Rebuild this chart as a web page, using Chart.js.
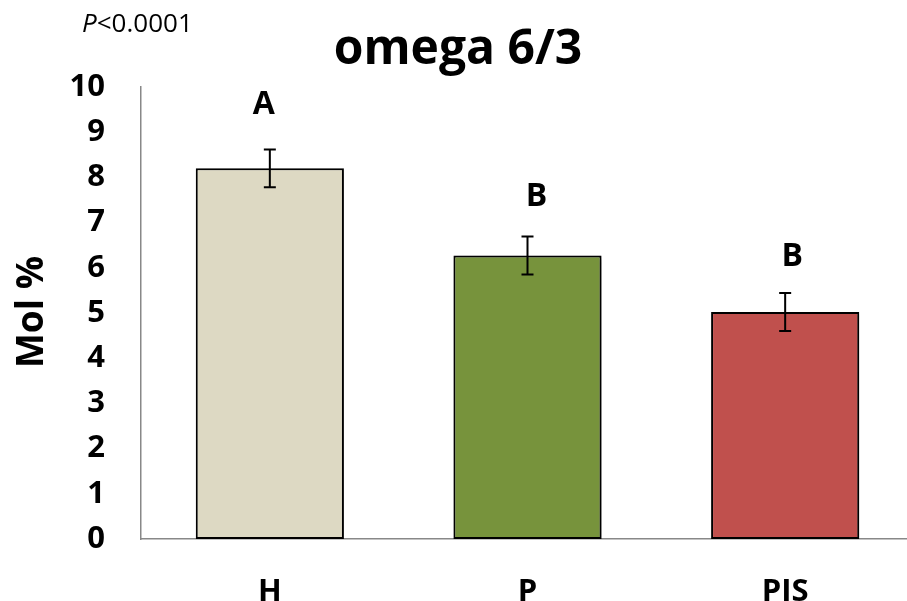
<!DOCTYPE html>
<html>
<head>
<meta charset="utf-8">
<title>omega 6/3</title>
<script src="https://cdn.jsdelivr.net/npm/chart.js@4.4.1/dist/chart.umd.min.js"></script>
<style>
  html, body { margin: 0; padding: 0; background: #ffffff; overflow: hidden; }
  #wrap { width: 907px; height: 601px; position: relative; overflow: hidden; }
</style>
</head>
<body>
<!-- the plot runs slightly past the right edge, so the canvas is a bit wider than its frame -->
<div id="wrap"><canvas id="c" width="914" height="601"></canvas></div>
<script>
// Group means (Mol %), their error bars and significance letters
const categories = ['H', 'P', 'PIS'];
const meanValues = [8.2, 6.27, 5.02];
const errorValues = [0.42, 0.42, 0.42];
const groupLetters = ['A', 'B', 'B'];
const yTickValues = [0, 1, 2, 3, 4, 5, 6, 7, 8, 9, 10];

const chartTitle = 'omega 6/3';
const pValueText = '<0.0001';
const yAxisTitle = 'Mol %';

const barColors = ['#DDD9C3', '#77933C', '#C0504D'];
const FONT = '"Open Sans", "Liberation Sans", sans-serif';

// Soft drop shadow behind the bars
const barShadow = {
  id: 'barShadow',
  beforeDatasetsDraw(chart) {
    const ctx = chart.ctx;
    ctx.save();
    ctx.shadowColor = 'rgba(0,0,0,0.35)';
    ctx.shadowBlur = 4;
    ctx.shadowOffsetX = 2;
    ctx.shadowOffsetY = 2;
  },
  afterDatasetsDraw(chart) {
    chart.ctx.restore();
  }
};

// Error bars and group letters, positioned through the value scale
const errorBars = {
  id: 'errorBars',
  afterDatasetsDraw(chart, args, opts) {
    const ctx = chart.ctx;
    const y = chart.scales.y;
    const meta = chart.getDatasetMeta(0);
    ctx.save();
    ctx.strokeStyle = '#000000';
    ctx.lineWidth = 2;
    meta.data.forEach((bar, i) => {
      const x = bar.x;
      const hi = y.getPixelForValue(meanValues[i] + errorValues[i]);
      const lo = y.getPixelForValue(meanValues[i] - errorValues[i]);
      const cap = 6;
      ctx.beginPath();
      ctx.moveTo(x, hi); ctx.lineTo(x, lo);
      ctx.moveTo(x - cap, hi); ctx.lineTo(x + cap, hi);
      ctx.moveTo(x - cap, lo); ctx.lineTo(x + cap, lo);
      ctx.stroke();

      // letters sit in hand-placed text boxes above each whisker
      const [dx, dy] = opts.letterNudge[i];
      ctx.fillStyle = '#000000';
      ctx.font = 'bold 32px ' + FONT;
      ctx.textAlign = 'center';
      ctx.textBaseline = 'middle';
      ctx.fillText(groupLetters[i], x + dx, hi + dy);
    });
    ctx.restore();
  }
};

// Title, p-value note and rotated y-axis title
const annotations = {
  id: 'annotations',
  afterDraw(chart) {
    const ctx = chart.ctx;
    ctx.save();
    ctx.fillStyle = '#000000';
    ctx.textBaseline = 'middle';

    ctx.font = 'bold 48px ' + FONT;
    ctx.textAlign = 'center';
    ctx.fillText(chartTitle, 458, 50);

    ctx.textAlign = 'left';
    ctx.font = 'italic 26px ' + FONT;
    ctx.fillText('P', 82, 25);
    const pw = ctx.measureText('P').width;
    ctx.font = '26px ' + FONT;
    ctx.fillText(pValueText, 82 + pw, 25);

    ctx.translate(32, 312);
    ctx.rotate(-Math.PI / 2);
    ctx.textAlign = 'center';
    ctx.font = 'bold 37px ' + FONT;
    ctx.fillText(yAxisTitle, 0, 0);
    ctx.restore();
  }
};

new Chart(document.getElementById('c'), {
  type: 'bar',
  data: {
    labels: categories,
    datasets: [{
      data: meanValues,
      backgroundColor: barColors,
      borderColor: '#000000',
      borderWidth: 2,
      borderSkipped: false,
      barPercentage: 0.575,
      categoryPercentage: 1.0
    }]
  },
  options: {
    responsive: false,
    animation: false,
    devicePixelRatio: 1,
    layout: { padding: { top: 87, right: 0, bottom: 0, left: 0 } },
    plugins: {
      legend: { display: false },
      tooltip: { enabled: false },
      title: { display: false },
      errorBars: { letterNudge: [[-6, -44], [9, -40], [7, -36]] }
    },
    scales: {
      x: {
        grid: { display: false, drawTicks: false },
        border: { display: true, color: '#888888', width: 1.5 },
        ticks: {
          color: '#000000',
          padding: 35,
          font: { family: FONT, size: 31, weight: 'bold' }
        },
        afterFit(scale) { scale.height = 62; }
      },
      y: {
        min: 0,
        max: 10,
        grid: { display: false, drawTicks: false },
        border: { display: true, color: '#888888', width: 1.5 },
        afterBuildTicks(scale) {
          scale.ticks = yTickValues.map(v => ({ value: v }));
        },
        ticks: {
          color: '#000000',
          padding: 36,
          font: { family: FONT, size: 31, weight: 'bold' }
        },
        afterFit(scale) { scale.width = 141; }
      }
    }
  },
  plugins: [barShadow, errorBars, annotations]
});
</script>
</body>
</html>
